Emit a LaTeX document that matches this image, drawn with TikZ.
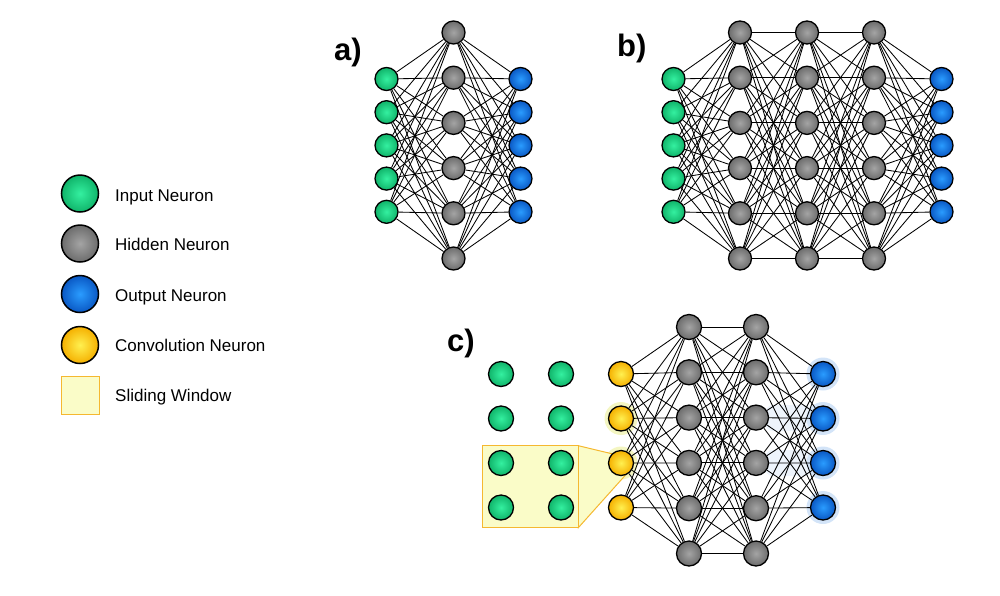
\documentclass[tikz,border=0pt]{standalone}
\usepackage{fontspec}
\setmainfont{Liberation Sans}
\usetikzlibrary{backgrounds}
\definecolor{ginner}{HTML}{34F0A0}
\definecolor{gouter}{HTML}{10B46A}
\definecolor{hinner}{HTML}{A4A4A4}
\definecolor{houter}{HTML}{6C6C6C}
\definecolor{binner}{HTML}{2A9CFF}
\definecolor{bouter}{HTML}{0A58C4}
\definecolor{yinner}{HTML}{FFF050}
\definecolor{youter}{HTML}{F5B000}
\definecolor{winfill}{HTML}{FAFCC8}
\definecolor{winline}{HTML}{F5B830}
\definecolor{yhalo}{HTML}{F4F6C2}
\definecolor{bhalo}{HTML}{D3E4F8}
\definecolor{bband}{HTML}{EEF4FC}
\tikzset{
  neuron/.style={circle, draw=black, line width=1.3pt, minimum size=23pt, inner sep=0pt},
  inp/.style={neuron, inner color=ginner, outer color=gouter},
  hid/.style={neuron, inner color=hinner, outer color=houter},
  outn/.style={neuron, inner color=binner, outer color=bouter},
  conv/.style={neuron, inner color=yinner, outer color=youter},
  big/.style={minimum size=25pt},
  legn/.style={minimum size=37pt, line width=1.5pt},
  conn/.style={draw=black, line width=0.85pt},
  legtext/.style={anchor=base west, inner sep=0pt, font=\fontsize{17}{20}\selectfont},
  panel/.style={anchor=base west, inner sep=0pt, font=\fontsize{31}{36}\selectfont\bfseries},
  window/.style={fill=winfill, draw=winline, line width=1pt},
  halo/.style={circle, inner sep=0pt, minimum size=33pt},
}
\begin{document}
\begin{tikzpicture}[x=1pt,y=-1pt]
\useasboundingbox (0,0) rectangle (1000,595);

% ---------- Legend ----------
\node[inp, legn] (lgin) at (80,193.5) {};
\node[hid, legn] (lghid) at (80,243.5) {};
\node[outn, legn] (lgout) at (80,294) {};
\node[conv, legn] (lgconv) at (80,345) {};
\node[window, minimum size=38pt, inner sep=0pt] (lgwin) at (80,395.5) {};
\node[legtext] (tin) at (115,201.7) {Input Neuron};
\node[legtext] (thid) at (115,250) {Hidden Neuron};
\node[legtext] (tout) at (115,301.7) {Output Neuron};
\node[legtext] (tconv) at (115,351.7) {Convolution Neuron};
\node[legtext] (twin) at (115,401.7) {Sliding Window};

% ---------- Panel labels ----------
\node[panel] (la) at (334,60) {a)};
\node[panel] (lb) at (617,56.7) {b)};
\node[panel] (lc) at (447,351.7) {c)};

% ---------- Panel a ----------
\foreach \k in {1,...,5} {
  \node[inp] (ai\k) at (386.5,{79+33.2*(\k-1)}) {};
  \node[outn] (ao\k) at (520.5,{79+33.2*(\k-1)}) {};
}
\foreach \k in {1,...,6} {
  \node[hid] (ah\k) at (453.5,{32.5+45.2*(\k-1)}) {};
}

% ---------- Panel b ----------
\foreach \k in {1,...,5} {
  \node[inp] (bi\k) at (673.5,{79+33.2*(\k-1)}) {};
  \node[outn] (bo\k) at (941.5,{79+33.2*(\k-1)}) {};
}
\foreach \k in {1,...,6} {
  \node[hid] (bha\k) at (740,{32.5+45.2*(\k-1)}) {};
  \node[hid] (bhb\k) at (807,{32.5+45.2*(\k-1)}) {};
  \node[hid] (bhc\k) at (874,{32.5+45.2*(\k-1)}) {};
}

% ---------- Panel c ----------
\foreach \k in {1,...,4} {
  \node[inp, big] (cga\k) at (501,{374+44.5*(\k-1)}) {};
  \node[inp, big] (cgb\k) at (561,{374+44.5*(\k-1)}) {};
  \node[conv, big] (cc\k) at (621,{374+44.5*(\k-1)}) {};
  \node[outn, big] (co\k) at (823,{374+44.5*(\k-1)}) {};
}
\foreach \k in {1,...,6} {
  \node[hid, big] (cha\k) at (689,{327+45.3*(\k-1)}) {};
  \node[hid, big] (chb\k) at (756,{327+45.3*(\k-1)}) {};
}

% ---------- Background: halos, window, connections ----------
\begin{scope}[on background layer]
  % faint bands
  \fill[bband, rounded corners=8pt] (765,405) rectangle (812,431);
  \fill[bband, rounded corners=8pt] (765,450) rectangle (812,476);
  % halos
  \foreach \k in {1,...,4} { \node[halo, fill=bhalo] (hb\k) at (co\k) {}; }
  \node[halo, fill=yhalo] (hy2) at (cc2) {};
  \node[halo, fill=yhalo] (hy3) at (cc3) {};
  % sliding window
  \draw[window] (578.3,445.7) -- (cc3.135) -- (cc3.-72) -- (578.3,527.7) -- cycle;
  \draw[window] (482.3,445.7) rectangle (578.3,527.7);
  % panel a connections
  \foreach \i in {1,...,5} \foreach \j in {1,...,6} {
    \draw[conn] (ai\i) -- (ah\j);
    \draw[conn] (ah\j) -- (ao\i);
  }
  % panel b connections
  \foreach \i in {1,...,5} \foreach \j in {1,...,6} {
    \draw[conn] (bi\i) -- (bha\j);
    \draw[conn] (bhc\j) -- (bo\i);
  }
  \foreach \i in {1,...,6} \foreach \j in {1,...,6} {
    \draw[conn] (bha\i) -- (bhb\j);
    \draw[conn] (bhb\i) -- (bhc\j);
  }
  % panel c connections
  \foreach \i in {1,...,4} \foreach \j in {1,...,6} {
    \draw[conn] (cc\i) -- (cha\j);
    \draw[conn] (chb\j) -- (co\i);
  }
  \foreach \i in {1,...,6} \foreach \j in {1,...,6} {
    \draw[conn] (cha\i) -- (chb\j);
  }
\end{scope}
\end{tikzpicture}
\end{document}
